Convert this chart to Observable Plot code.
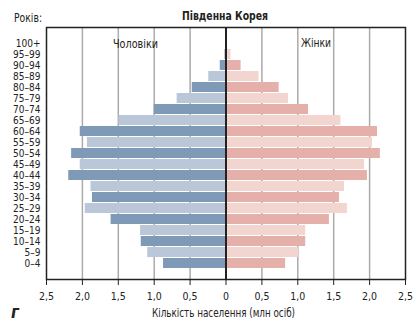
<!DOCTYPE html>
<html><head><meta charset="utf-8">
<script src="https://cdn.jsdelivr.net/npm/d3@7"></script>
<script src="https://cdn.jsdelivr.net/npm/@observablehq/plot@0.6"></script>
<style>
body{margin:0;background:#fff;}
#chart svg{font-family:"DejaVu Sans Condensed","Liberation Sans Narrow",sans-serif;display:block;}
</style></head><body><div id="chart"></div>
<script>
const ageGroups = ["0–4","5–9","10–14","15–19","20–24","25–29","30–34","35–39","40–44","45–49","50–54","55–59","60–64","65–69","70–74","75–79","80–84","85–89","90–94","95–99","100+"];
const male   = [0.87,1.09,1.18,1.19,1.60,1.96,1.86,1.88,2.19,2.03,2.15,1.93,2.03,1.49,1.00,0.68,0.47,0.24,0.08,0.02,0.00];
const female = [0.83,1.01,1.11,1.11,1.44,1.69,1.58,1.65,1.97,1.93,2.15,2.04,2.11,1.60,1.15,0.87,0.74,0.46,0.21,0.07,0.01];
const xTicks = [-2.5,-2,-1.5,-1,-0.5,0,0.5,1,1.5,2,2.5];
const gridTicks = [-2,-1.5,-1,-0.5,0.5,1,1.5,2];
const title = "Південна Корея";
const maleLabel = "Чоловіки";
const femaleLabel = "Жінки";
const yTitle = "Років:";
const xTitle = "Кількість населення (млн осіб)";
const figLetter = "г";

const rows = ageGroups.flatMap((a, i) => [
  {age: a, v: -male[i], fill: i % 2 === 0 ? "#7f9ab6" : "#bac7d8"},
  {age: a, v: female[i], fill: i % 2 === 0 ? "#e5b0a9" : "#f3d5d0"}
]);

const FONT = '"DejaVu Sans Condensed","Liberation Sans Narrow",sans-serif';

const chart = Plot.plot({
  width: 416, height: 321,
  marginLeft: 46, marginRight: 11, marginTop: 27, marginBottom: 42,
  style: {fontSize: "10px", fontFamily: FONT, color: "#222", background: "#fff"},
  x: {domain: [-2.5, 2.5], label: null},
  y: {domain: [...ageGroups].reverse(), label: null, padding: 0.12},
  color: {type: "identity"},
  marks: [
    Plot.ruleX(gridTicks, {stroke: "#ababab", strokeWidth: 1.5}),
    Plot.barX(rows, {x: "v", y: "age", fill: "fill"}),
    Plot.ruleX([0], {stroke: "#222", strokeWidth: 2}),
    Plot.frame({stroke: "#222", strokeWidth: 1.5}),
    Plot.axisX({ticks: xTicks, tickSize: 6, tickPadding: 7, stroke: "#222", fontSize: 10.5,
      tickFormat: d => d === 0 ? "0" : Math.abs(d).toFixed(1).replace(".", ",")}),
    Plot.axisY({tickSize: 0, tickPadding: 6, textAnchor: "end", fontSize: 10})
  ]
});

const svg = d3.select(chart);
function addText(str, x, y, size, anchor, len, extra = {}) {
  const t = svg.append("text").attr("x", x).attr("y", y).attr("text-anchor", anchor)
    .attr("font-size", size).attr("fill", "#222").attr("font-family", FONT).text(str);
  if (len) t.attr("textLength", len).attr("lengthAdjust", "spacingAndGlyphs");
  for (const k in extra) t.attr(k, extra[k]);
  return t;
}
addText(title, 182, 20, 12.5, "start", 86, {"font-weight": "bold"});
addText(yTitle, 14, 22, 12, "start", 28);
addText(maleLabel, 113, 48, 12, "start", 45);
addText(femaleLabel, 301, 47, 12, "start", 30);
addText(xTitle, 152, 317, 12, "start", 143);
addText(figLetter, 11, 318, 17, "start", null, {"font-style": "italic", "font-weight": "bold"});

document.getElementById("chart").append(chart);
</script></body></html>
